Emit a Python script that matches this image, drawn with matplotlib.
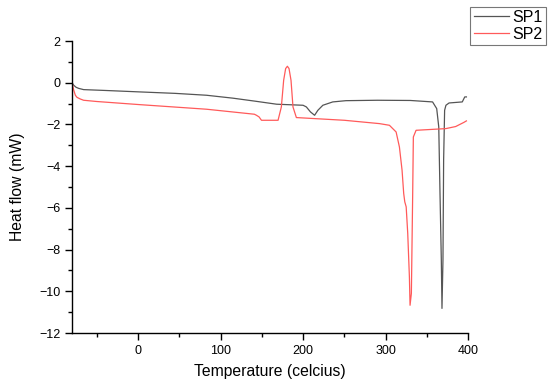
import matplotlib
matplotlib.use("Agg")
import matplotlib.pyplot as plt
from matplotlib.ticker import MultipleLocator

# SP1 curve
sp1_temp = [-80, -78, -75, -72, -66, -40, 2, 45, 83, 115, 143, 168, 200, 204, 209,
            214, 218, 224, 236, 252, 290, 330, 357, 362, 364.5, 366, 367.6, 368.4,
            369.6, 370.4, 371.6, 373.2, 377, 393, 396, 398]
sp1_flow = [0, -0.12, -0.22, -0.27, -0.33, -0.37, -0.44, -0.51, -0.6, -0.74, -0.89,
            -1.03, -1.08, -1.16, -1.4, -1.56, -1.32, -1.08, -0.92, -0.86, -0.84,
            -0.85, -0.92, -1.24, -2.12, -5.3, -8.5, -10.82, -8.5, -3.7, -1.32,
            -1.08, -0.97, -0.92, -0.68, -0.68]

# SP2 curve
sp2_temp = [-80, -78, -76, -74, -70, -66, -50, 2, 83, 141, 143.5, 146.7, 149.6,
            169.7, 173.7, 176.5, 178.9, 181, 183, 185.4, 187.8, 191.9, 250, 292.6,
            304.7, 312.8, 316.8, 320, 322, 323.3, 325, 326.9, 328.9, 329.7, 331.3,
            332.9, 333.7, 337, 373, 385, 395, 398]
sp2_flow = [0, -0.35, -0.6, -0.7, -0.78, -0.84, -0.9, -1.05, -1.27, -1.51, -1.56,
            -1.64, -1.8, -1.8, -1.16, 0.12, 0.68, 0.79, 0.68, 0.12, -1.16, -1.67,
            -1.8, -1.96, -2.04, -2.36, -3.08, -4.19, -5.31, -5.71, -5.95, -7.23,
            -9.3, -10.67, -10.1, -5.3, -2.6, -2.28, -2.2, -2.1, -1.9, -1.83]

plt.rcParams['font.family'] = ['Liberation Sans', 'DejaVu Sans']

fig = plt.figure(figsize=(5.5, 3.87), dpi=100)
ax = fig.add_axes([0.131, 0.1395, 0.72, 0.7545])

ax.plot(sp1_temp, sp1_flow, color='#555555', lw=0.9, label='SP1')
ax.plot(sp2_temp, sp2_flow, color='#ff5a5a', lw=0.9, label='SP2')

ax.set_xlim(-80, 400)
ax.set_ylim(-12, 2)
ax.xaxis.set_major_locator(MultipleLocator(100))
ax.xaxis.set_minor_locator(MultipleLocator(50))
ax.yaxis.set_major_locator(MultipleLocator(2))
ax.yaxis.set_minor_locator(MultipleLocator(1))

for side in ['top', 'right']:
    ax.spines[side].set_visible(False)
for side in ['left', 'bottom']:
    ax.spines[side].set_linewidth(1.0)

ax.tick_params(which='major', direction='out', length=5, width=1, labelsize=9)
ax.tick_params(which='minor', direction='out', length=3, width=1)

ax.set_xlabel('Temperature (celcius)', fontsize=11.3, labelpad=5)
ax.set_ylabel('Heat flow (mW)', fontsize=11.3, labelpad=10)

leg = fig.legend(loc='upper right', bbox_to_anchor=(0.993, 0.983), fontsize=11.5,
                 fancybox=False, edgecolor='#555555', handlelength=2.2,
                 borderpad=0.2, labelspacing=0.12, handletextpad=0.25,
                 borderaxespad=0)
leg.get_frame().set_linewidth(0.8)

fig.savefig('out.png', dpi=100)
